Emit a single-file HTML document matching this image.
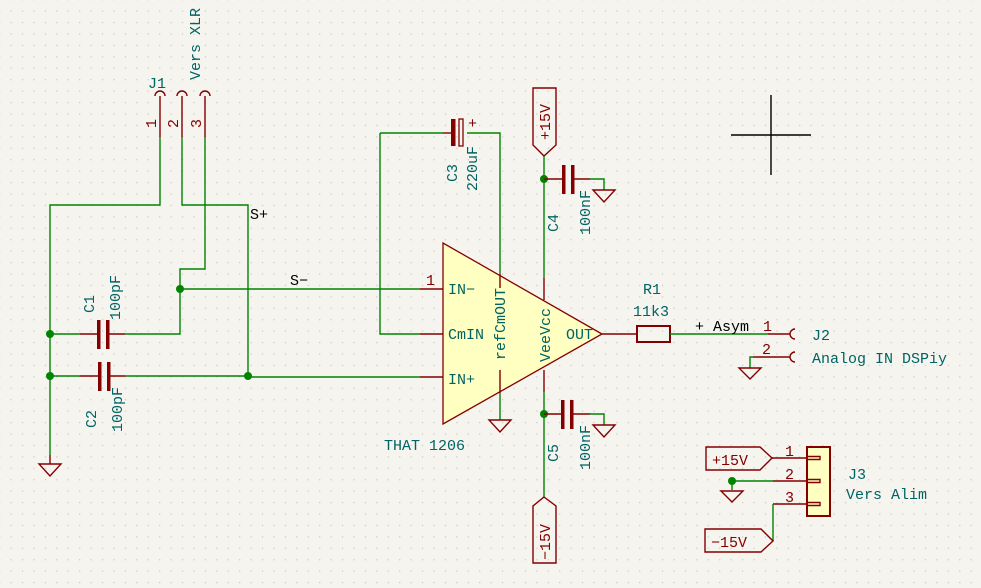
<!DOCTYPE html>
<html><head><meta charset="utf-8"><style>
html,body{margin:0;padding:0;background:#f5f4ef;}
svg{display:block;}
text{font-family:"Liberation Mono","DejaVu Sans Mono",monospace;font-size:15px;}
.g{stroke:#008400;stroke-width:1.4;fill:none;}
.r{stroke:#840000;stroke-width:1.4;fill:none;}
.t{fill:#006464;}
.k{fill:#000;}
.rd{fill:#840000;}
</style></head><body>
<svg width="981" height="588" viewBox="0 0 981 588" xmlns="http://www.w3.org/2000/svg">
<defs>
<pattern id="grid" x="10.5" y="10.5" width="11.43" height="11.43" patternUnits="userSpaceOnUse">
<rect x="0" y="0" width="1.2" height="1.2" fill="#c8c8c4"/>
</pattern>
</defs>
<rect width="981" height="588" fill="#f5f4ef"/>
<rect width="981" height="588" fill="url(#grid)"/>

<!-- crosshair -->
<path d="M731 135H811M771 95V175" stroke="#000" stroke-width="1.4"/>

<!-- J1 -->
<text x="148" y="88" class="t">J1</text>
<text transform="translate(200,80) rotate(-90)" class="t">Vers XLR</text>
<path class="r" d="M155 96a5 5 0 0 1 10 0M177 96a5 5 0 0 1 10 0M200 96a5 5 0 0 1 10 0"/>
<path class="r" d="M160 96V137M182 96V137M205 96V137"/>
<text transform="translate(156,128) rotate(-90)" class="rd" font-size="15">1</text>
<text transform="translate(178,128) rotate(-90)" class="rd" font-size="15">2</text>
<text transform="translate(201,128) rotate(-90)" class="rd" font-size="15">3</text>
<path class="g" d="M160 137V205H50V455"/>
<path class="g" d="M182 137V205H248V377"/>
<path class="g" d="M205 137V269H180V334H125"/>
<text x="250" y="219" class="k">S+</text>
<path class="g" d="M180 289H420"/>
<text x="290" y="285" class="k">S−</text>

<!-- C1 -->
<path class="g" d="M50 334H80"/>
<path class="r" d="M80 334H98M108 334H125"/>
<rect x="97" y="320" width="3.5" height="29" fill="#840000"/>
<rect x="106" y="320" width="3.5" height="29" fill="#840000"/>
<text transform="translate(94,313) rotate(-90)" class="t">C1</text>
<text transform="translate(120,320) rotate(-90)" class="t">100pF</text>
<!-- C2 -->
<path class="g" d="M50 376H80M125 376H248V377H420"/>
<path class="r" d="M80 376H98M108 376H125"/>
<rect x="98" y="362" width="3.5" height="29" fill="#840000"/>
<rect x="107" y="362" width="3.5" height="29" fill="#840000"/>
<text transform="translate(96,428) rotate(-90)" class="t">C2</text>
<text transform="translate(122,432) rotate(-90)" class="t">100pF</text>
<g fill="#008400"><circle cx="50" cy="334" r="4"/><circle cx="50" cy="376" r="4"/><circle cx="180" cy="289" r="4"/><circle cx="248" cy="376" r="4"/><circle cx="544" cy="179" r="4"/><circle cx="544" cy="414" r="4"/><circle cx="732" cy="481" r="4"/></g>
<!-- ground left -->
<path class="r" d="M50 455V464M39 464H61L50 476Z"/>

<!-- C3 -->
<path class="g" d="M380 133H443M467 133H500V274M380 133V334H420"/>
<path class="r" d="M443 133H452"/>
<rect x="451" y="119" width="4.5" height="27" fill="#840000"/>
<rect x="459" y="119" width="4" height="27" fill="none" stroke="#840000" stroke-width="1.3"/>
<text x="468" y="128" class="rd" font-size="11">+</text>
<text transform="translate(457,182) rotate(-90)" class="t">C3</text>
<text transform="translate(477,191) rotate(-90)" class="t">220uF</text>

<!-- op-amp -->
<path d="M443 243L443 424L602 334Z" fill="#ffffc2" stroke="#840000" stroke-width="1.3"/>
<path class="r" d="M420 289H443M420 334H443M420 377H443M500 274V288M500 370V393M544 278V300M544 370V392M602 334H637"/>
<text x="426" y="285" class="rd" font-size="15">1</text>
<text x="448" y="294" class="t">IN−</text>
<text x="448" y="339" class="t">CmIN</text>
<text x="448" y="384" class="t">IN+</text>
<text transform="translate(505,360) rotate(-90)" class="t">refCmOUT</text>
<text transform="translate(550,362) rotate(-90)" class="t">VeeVcc</text>
<text x="566" y="339" class="t">OUT</text>
<text x="384" y="450" class="t">THAT 1206</text>
<path class="g" d="M500 393V420"/>
<path class="r" d="M489 420H511L500 432Z"/>

<!-- +15V flag -->
<path class="r" d="M533 88H556V145L544 156L533 145Z"/>
<text transform="translate(550,140) rotate(-90)" class="rd">+15V</text>
<path class="g" d="M544 156V278"/>
<!-- C4 -->
<path class="r" d="M544 179H564M574 179H590"/>
<rect x="562" y="165" width="3.5" height="29" fill="#840000"/>
<rect x="571" y="165" width="3.5" height="29" fill="#840000"/>
<path class="g" d="M590 179H604V190"/>
<path class="r" d="M593 190H615L604 202Z"/>
<text transform="translate(558,232) rotate(-90)" class="t">C4</text>
<text transform="translate(590,235) rotate(-90)" class="t">100nF</text>
<!-- C5 -->
<path class="g" d="M544 392V497"/>
<path class="r" d="M544 414H562M572 414H590"/>
<rect x="561" y="400" width="3.5" height="29" fill="#840000"/>
<rect x="570" y="400" width="3.5" height="29" fill="#840000"/>
<path class="g" d="M590 414H604V425"/>
<path class="r" d="M593 425H615L604 437Z"/>
<text transform="translate(558,462) rotate(-90)" class="t">C5</text>
<text transform="translate(590,470) rotate(-90)" class="t">100nF</text>
<!-- -15V flag -->
<path class="r" d="M544 497L556 506V563H533V506Z"/>
<text transform="translate(550,560) rotate(-90)" class="rd">−15V</text>

<!-- R1 -->
<rect x="637" y="326" width="33" height="16" fill="none" stroke="#840000" stroke-width="2"/>
<text x="643" y="294" class="t">R1</text>
<text x="633" y="316" class="t">11k3</text>
<path class="g" d="M670 334H768"/>
<text x="695" y="331" class="k">+ Asym</text>
<!-- J2 -->
<path class="r" d="M768 334H790M795 329a5 5 0 0 0 0 10M753 357H790M795 352a5 5 0 0 0 0 10"/>
<text x="763" y="331" class="rd" font-size="15">1</text>
<text x="762" y="354" class="rd" font-size="15">2</text>
<path class="g" d="M753 357H750V368"/>
<path class="r" d="M739 368H761L750 379Z"/>
<text x="812" y="340" class="t">J2</text>
<text x="812" y="363" class="t">Analog IN DSPiy</text>

<!-- J3 -->
<rect x="807" y="447" width="23" height="69" fill="#ffffc2" stroke="#840000" stroke-width="2"/>
<path class="r" d="M772 458H807M773 481H807M773 504H807"/>
<path class="r" d="M807 456.5H820V459.5H807M807 479.5H820V482.5H807M807 502.5H820V505.5H807" stroke-width="1"/>
<text x="785" y="456" class="rd" font-size="15">1</text>
<text x="785" y="479" class="rd" font-size="15">2</text>
<text x="785" y="502" class="rd" font-size="15">3</text>
<text x="848" y="479" class="t">J3</text>
<text x="846" y="499" class="t">Vers Alim</text>
<path class="r" d="M706 447H760L772 458L760 470H706Z"/>
<text x="712" y="465" class="rd">+15V</text>
<path class="g" d="M732 481H773M732 481V490M773 504V541"/>
<path class="r" d="M721 491H743L732 502Z"/>
<path class="r" d="M705 529H761L773 541L761 552H705Z"/>
<text x="711" y="547" class="rd">−15V</text>
</svg>
</body></html>
